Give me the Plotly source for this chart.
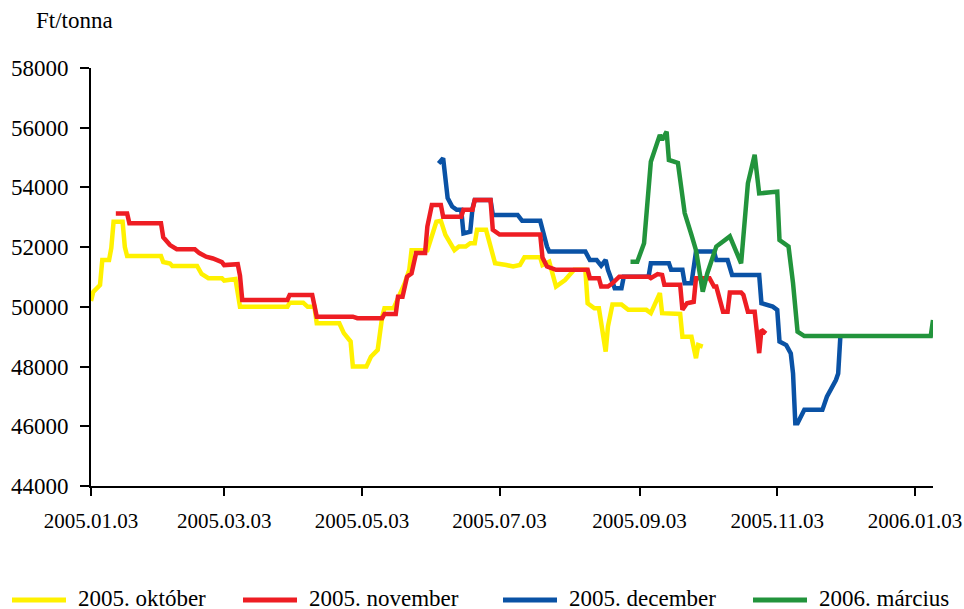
import pandas as pd
import plotly.graph_objects as go

# days counted from 2005.01.03, prices in Ft/tonna
okt_days = [0, 1, 4, 5, 8, 9, 10, 14, 15, 16, 31, 32, 35, 36, 47, 49, 52, 58, 59, 64,
            66, 87, 88, 94, 96, 99, 100, 110, 112, 115, 116, 122, 124, 127, 129, 130, 134, 137, 139, 141,
            142, 149, 151, 153, 155, 157, 161, 163, 166, 168, 170, 171, 175, 177, 179, 184, 187, 190, 192, 199,
            200, 203, 206, 210, 213, 214, 219, 220, 223, 225, 228, 229, 231, 235, 238, 246, 248, 252, 253, 261,
            262, 266, 268, 269, 271]
okt_vals = [50200, 50500, 50730, 51570, 51570, 51970, 52850, 52850, 52000, 51700, 51700, 51500, 51450, 51370, 51370, 51100, 50960, 50960, 50880, 50930,
            50000, 50000, 50140, 50140, 50000, 50000, 49450, 49450, 49120, 48840, 48000, 48000, 48330, 48560, 49670, 49950, 49950, 50460, 50790, 51240,
            51900, 51900, 52400, 52850, 52880, 52410, 51900, 52020, 52020, 52130, 52130, 52580, 52580, 52020, 51460, 51400, 51350, 51400, 51660, 51660,
            51400, 51510, 50680, 50900, 51120, 51240, 51240, 50120, 49950, 49950, 48500, 49340, 50080, 50080, 49900, 49900, 49790, 50460, 49790, 49760,
            49000, 49000, 48280, 48720, 48670]

nov_days = [11, 16, 17, 31, 32, 35, 38, 46, 48, 51, 54, 58, 59, 65, 66, 67, 87, 88, 98, 100,
            116, 118, 129, 130, 135, 136, 138, 140, 142, 144, 148, 149, 151, 155, 156, 164, 165, 169, 170, 177,
            178, 181, 199, 200, 202, 206, 220, 221, 225, 226, 229, 231, 234, 247, 248, 251, 253, 254, 261, 262,
            264, 267, 268, 274, 276, 277, 280, 282, 283, 288, 289, 291, 294, 295, 296, 297, 299]
nov_vals = [53130, 53130, 52800, 52800, 52330, 52070, 51930, 51930, 51800, 51680, 51620, 51500, 51400, 51430, 51050, 50230, 50230, 50400, 50400, 49670,
            49670, 49620, 49620, 49760, 49760, 50340, 50340, 51010, 51120, 51800, 51800, 52690, 53410, 53410, 53020, 53020, 53250, 53250, 53580, 53580,
            52580, 52420, 52420, 51650, 51350, 51240, 51240, 50960, 50960, 50680, 50680, 50790, 51010, 51010, 50960, 51100, 51070, 50740, 50740, 49900,
            50120, 50170, 50960, 50960, 50680, 50680, 49840, 49840, 50480, 50480, 50400, 49840, 49840, 49230, 48450, 49230, 49110]

dec_days = [154, 156, 158, 160, 162, 164, 165, 168, 169, 170, 177, 178, 189, 191, 199, 200, 202, 203, 219, 221,
            224, 226, 228, 229, 231, 232, 235, 236, 247, 248, 256, 257, 262, 263, 266, 268, 276, 277, 282, 284,
            296, 297, 302, 304, 305, 308, 310, 311, 312, 313, 316, 324, 326, 330, 331, 332]
dec_vals = [54800, 54980, 53640, 53360, 53250, 53250, 52460, 52520, 53300, 53580, 53580, 53080, 53080, 52880, 52880, 52580, 52020, 51850, 51850, 51570,
            51570, 51380, 51570, 51240, 50750, 50620, 50620, 51010, 51010, 51460, 51460, 51240, 51240, 50790, 50790, 51850, 51850, 51570, 51570, 51070,
            51070, 50120, 50010, 49900, 48840, 48720, 48440, 47770, 46100, 46100, 46550, 46550, 46990, 47550, 47770, 49060]

mar_days = [239, 242, 245, 248, 252, 253, 255, 256, 260, 263, 266, 268, 271, 273, 277, 279, 283, 288, 291, 294,
            296, 304, 305, 309, 311, 313, 316, 372, 373]
mar_vals = [51510, 51510, 52130, 54860, 55760, 55590, 55870, 54920, 54820, 53140, 52410, 51900, 50510, 51120, 52020, 52130, 52360, 51460, 54140, 55090,
            53800, 53860, 52240, 52020, 50790, 49170, 49020, 49020, 49560]

tick_dates = ["2005-01-03", "2005-03-03", "2005-05-03", "2005-07-03", "2005-09-03", "2005-11-03", "2006-01-03"]
tick_labels = ["2005.01.03", "2005.03.03", "2005.05.03", "2005.07.03", "2005.09.03", "2005.11.03", "2006.01.03"]

series = [
    ("2005. október", okt_days, okt_vals, "#FFF100"),
    ("2005. november", nov_days, nov_vals, "#EE1D23"),
    ("2005. december", dec_days, dec_vals, "#0A52A5"),
    ("2006. március", mar_days, mar_vals, "#22943C"),
]
draw_order = [0, 2, 1, 3]

base = pd.Timestamp("2005-01-03")
FONT = "Liberation Serif"

W, H = 964, 609
L, R, T, B = 91, 31, 68, 123


def px(x, y):
    # pixel position -> paper coords
    return (x - L) / (W - L - R), (H - B - y) / (H - T - B)


fig = go.Figure()
for i in draw_order:
    name, days, vals, color = series[i]
    fig.add_trace(go.Scatter(
        x=base + pd.to_timedelta(days, unit="D"),
        y=vals,
        mode="lines",
        name=name,
        line=dict(color=color, width=4.5),
        showlegend=False,
    ))

# legend drawn by hand so the sample lines are as long as in the original
legend_x = [12, 243, 503, 753]
for (name, days, vals, color), lx in zip(series, legend_x):
    x0, y0 = px(lx, 600)
    x1, _ = px(lx + 54, 600)
    fig.add_shape(type="line", xref="paper", yref="paper", x0=x0, x1=x1, y0=y0, y1=y0,
                  line=dict(color=color, width=5))
    tx, ty = px(lx + 65, 598)
    fig.add_annotation(xref="paper", yref="paper", x=tx, y=ty, text=name, showarrow=False,
                       xanchor="left", yanchor="middle", borderpad=0, font=dict(size=23))

ux, uy = px(74, 21)
fig.add_annotation(xref="paper", yref="paper", x=ux, y=uy, text="Ft/tonna", showarrow=False,
                   xanchor="center", yanchor="middle", font=dict(size=23))

fig.update_layout(
    width=W, height=H,
    margin=dict(l=L, r=R, t=T, b=B, autoexpand=False),
    paper_bgcolor="white",
    plot_bgcolor="white",
    font=dict(family=FONT, size=21, color="black"),
    showlegend=False,
)
fig.update_xaxes(
    type="date",
    range=["2005-01-03", "2006-01-11"],
    tickvals=tick_dates,
    ticktext=tick_labels,
    tickfont=dict(size=21),
    automargin=False,
    showgrid=False, zeroline=False,
    showline=True, linecolor="black", linewidth=2,
    ticks="outside", ticklen=8, tickwidth=2, tickcolor="black",
    ticklabelstandoff=7,
)
fig.update_yaxes(
    range=[44000, 58000],
    dtick=2000,
    tickformat="d",
    tickfont=dict(size=23),
    automargin=False,
    showgrid=False, zeroline=False,
    showline=True, linecolor="black", linewidth=2,
    ticks="outside", ticklen=9, tickwidth=2, tickcolor="black",
    ticklabelstandoff=7,
)

# the page's default body margin would push the chart 8px off
fig.write_html("out.html", config={"displayModeBar": False},
               post_script="document.body.style.margin = '0px';")
